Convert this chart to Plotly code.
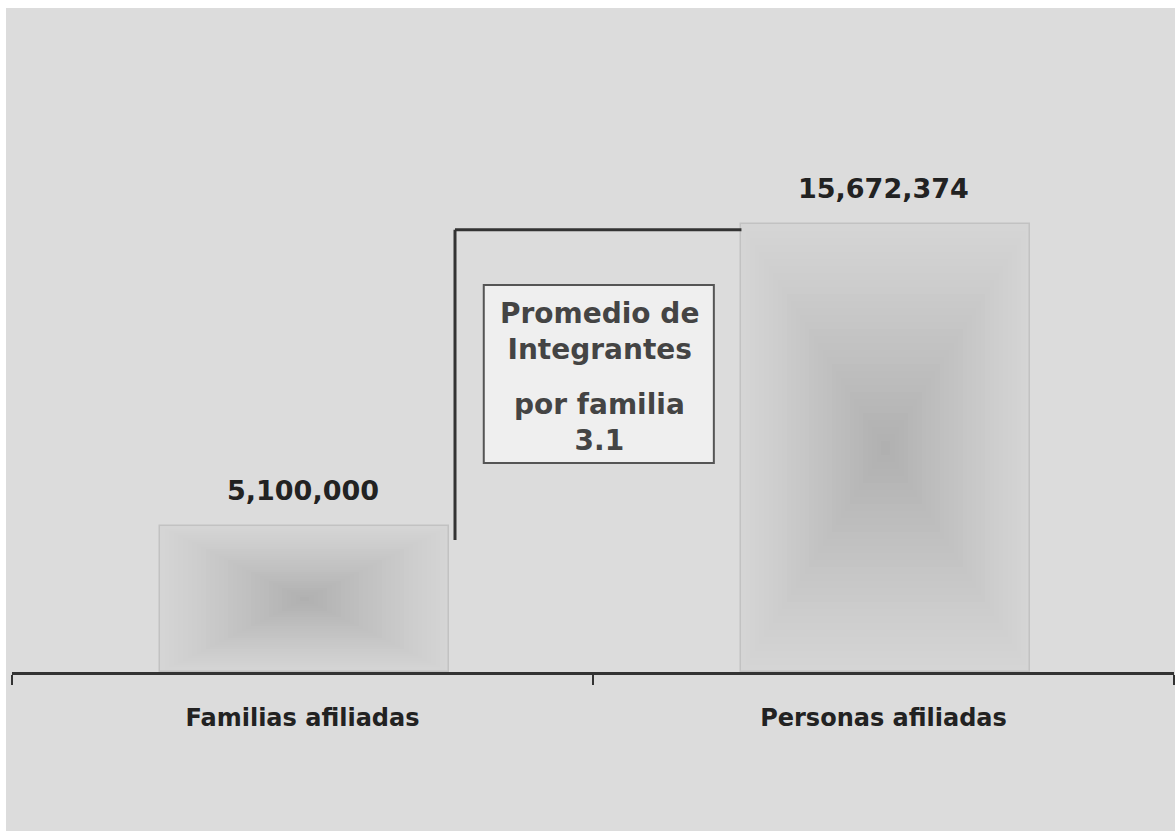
import plotly.graph_objects as go

CATEGORIES = ["Familias afiliadas", "Personas afiliadas"]
VALUES = [5100000, 15672374]
VALUE_LABELS = ["5,100,000", "15,672,374"]
BOX_TEXT_TOP = "Promedio de<br>Integrantes"
BOX_TEXT_BOTTOM = "por familia<br>3.1"

FONT = "DejaVu Sans"
BAR_WIDTH = 0.497
Y_MAX = 23.23e6

fig = go.Figure()

# nested bars to emulate the rectangular gradient fill
steps = 32
for k in range(steps):
    f = 1 - k / steps
    g = int(round(213 - 38 * (1 - f) ** 1.1))
    col = f"rgb({g},{g},{g})"
    fig.add_trace(go.Bar(
        x=CATEGORIES,
        y=[v * f for v in VALUES],
        base=[v * (1 - f) / 2 for v in VALUES],
        width=BAR_WIDTH * f,
        offset=-BAR_WIDTH * f / 2 + 0.004,
        marker=dict(color=col,
                    line=dict(color="#c2c2c2" if k == 0 else col, width=1.5 if k == 0 else 0)),
        hoverinfo="skip",
        showlegend=False,
    ))

# value labels
for c, v, t in zip(CATEGORIES, VALUES, VALUE_LABELS):
    fig.add_annotation(x=c, y=v, text=t, showarrow=False, yanchor="bottom", yshift=18,
                       font=dict(family=FONT, size=27, color="#222222", weight="bold"))

# bracket connecting the two bars
x_left = 0.2625
x_right = 1 - BAR_WIDTH / 2 + 0.004
y_low = VALUES[0] * 0.905
y_high = VALUES[1] * 0.987
fig.add_shape(type="line", xref="x", yref="y", x0=x_left, x1=x_left, y0=y_low, y1=y_high,
              line=dict(color="#333333", width=3))
fig.add_shape(type="line", xref="x", yref="y", x0=x_left, x1=x_right, y0=y_high, y1=y_high,
              line=dict(color="#333333", width=3))

# textbox
fig.add_shape(type="rect", xref="x", yref="y", x0=0.312, x1=0.708,
              y0=(672 - 463) / 664 * Y_MAX, y1=(672 - 285) / 664 * Y_MAX,
              fillcolor="#efefef", line=dict(color="#555555", width=2))
fig.add_annotation(x=0.5105, y=(672 - 331) / 664 * Y_MAX, text=BOX_TEXT_TOP, showarrow=False,
                   font=dict(family=FONT, size=28, color="#444444", weight="bold"))
fig.add_annotation(x=0.5105, y=(672 - 422) / 664 * Y_MAX, text=BOX_TEXT_BOTTOM, showarrow=False,
                   font=dict(family=FONT, size=28, color="#444444", weight="bold"))

# gray background area
fig.add_shape(type="rect", xref="paper", yref="paper", x0=-6 / 1162, x1=1.01, y0=-162 / 664, y1=1,
              fillcolor="#dcdcdc", line=dict(width=0), layer="below")

fig.update_layout(
    width=1175, height=831,
    margin=dict(l=12, r=1, t=8, b=159),
    paper_bgcolor="white",
    plot_bgcolor="#dcdcdc",
    barmode="overlay",
    bargap=0,
    showlegend=False,
    xaxis=dict(type="category", tickson="boundaries", ticks="outside", ticklen=10, tickwidth=2,
               tickcolor="#333333", showline=True, linecolor="#333333", linewidth=3,
               showgrid=False, zeroline=False, range=[-0.5, 1.5],
               tickfont=dict(family=FONT, size=24, color="#222222", weight="bold"),
               ticklabelstandoff=22),
    yaxis=dict(range=[0, Y_MAX], visible=False, showgrid=False, zeroline=False),
)

fig.write_html("out.html")
